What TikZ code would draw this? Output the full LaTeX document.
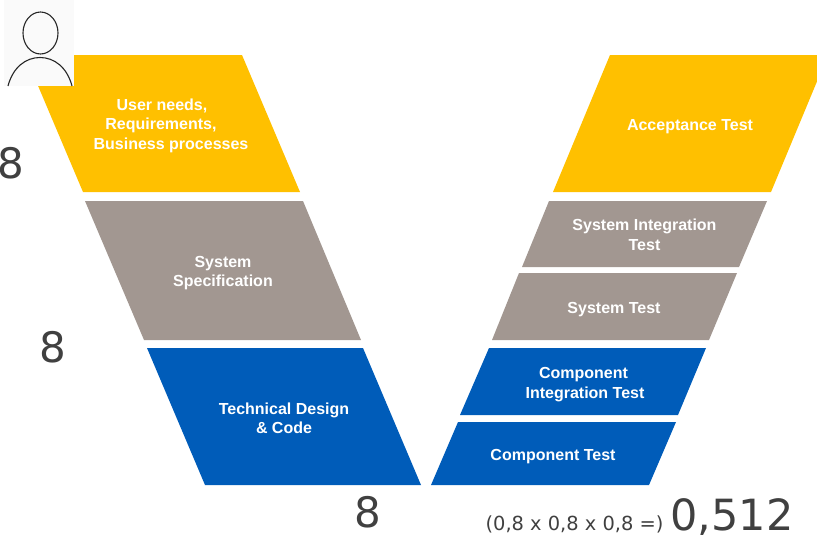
\documentclass[tikz,border=0pt]{standalone}
\usepackage{fontspec}
\setmainfont{Liberation Sans}
\newfontfamily\digitfont{DejaVu Sans}
\definecolor{stageyellow}{HTML}{FFC000}
\definecolor{stagegrey}{HTML}{A29791}
\definecolor{stageblue}{HTML}{005CB9}
\definecolor{digitgrey}{HTML}{404040}
\tikzset{
	stagelabel/.style={text=white, font=\fontsize{16}{19.5}\selectfont\bfseries, align=center, inner sep=0pt},
	factor/.style={text=digitgrey, font=\digitfont\fontsize{42}{42}\selectfont, inner sep=0pt, anchor=base}
}

\begin{document}
\begin{tikzpicture}[x=1pt, y=-1pt]
	\useasboundingbox (0, 0) rectangle (817, 536) ;
	\clip (0, 0) rectangle (817, 536) ;

	% left leg
	\fill[stageyellow] (25, 55) -- (242, 55) -- (300, 192) -- (83, 192) -- cycle ;
	\fill[stagegrey] (85, 201) -- (303, 201) -- (361, 340) -- (144, 340) -- cycle ;
	\fill[stageblue] (147, 348) -- (363, 348) -- (421, 485) -- (205, 485) -- cycle ;

	% right leg
	\fill[stageyellow] (610, 55) -- (828, 55) -- (771, 192) -- (553, 192) -- cycle ;
	\fill[stagegrey] (549, 201) -- (767, 201) -- (739, 267) -- (522, 267) -- cycle ;
	\fill[stagegrey] (519, 273) -- (737, 273) -- (709, 340) -- (492, 340) -- cycle ;
	\fill[stageblue] (489, 348) -- (706, 348) -- (678, 415) -- (460, 415) -- cycle ;
	\fill[stageblue] (458, 422) -- (676, 422) -- (649, 485) -- (431, 485) -- cycle ;

	% user icon
	\fill[black!2] (4, 0) rectangle (74, 86) ;
	\draw[black!85, line width=1.1pt] (40.5, 33) ellipse (17.5 and 21) ;
	\draw[black!85, line width=1.1pt] (8, 86) .. controls (13, 67) and (26, 57.5) .. (40, 57.5) .. controls (54, 57.5) and (67, 67) .. (72, 86) ;

	\node[stagelabel] (needs) at (171, 125.5) {\mbox{User needs,\kern18pt}\\\mbox{Requirements,\kern20pt}\\Business processes} ;
	\node[stagelabel] (spec) at (223, 273) {System\\Specification} ;
	\node[stagelabel] (design) at (284, 418.5) {Technical Design\\\& Code} ;
	\node[stagelabel] (acceptance) at (690, 127) {Acceptance Test} ;
	\node[stagelabel] (sysint) at (644.5, 235) {System Integration\\Test} ;
	\node[stagelabel] (systest) at (614, 310) {System Test} ;
	\node[stagelabel] (compint) at (585, 384.5) {\mbox{Component\kern3pt}\\Integration Test} ;
	\node[stagelabel] (comptest) at (553, 457) {Component Test} ;

	\node[factor] (first) at (11, 178) {8} ;
	\node[factor] (second) at (52.5, 362) {8} ;
	\node[factor] (third) at (368, 527) {8} ;
	\node[text=digitgrey, font=\digitfont\fontsize{19.4}{19.4}\selectfont, inner sep=0pt] (product) at (574.5, 524) {(0,8 x 0,8 x 0,8 =)} ;
	\node[factor, font=\digitfont\fontsize{43}{43}\selectfont] (result) at (732, 530) {0,512} ;
\end{tikzpicture}
\end{document}
